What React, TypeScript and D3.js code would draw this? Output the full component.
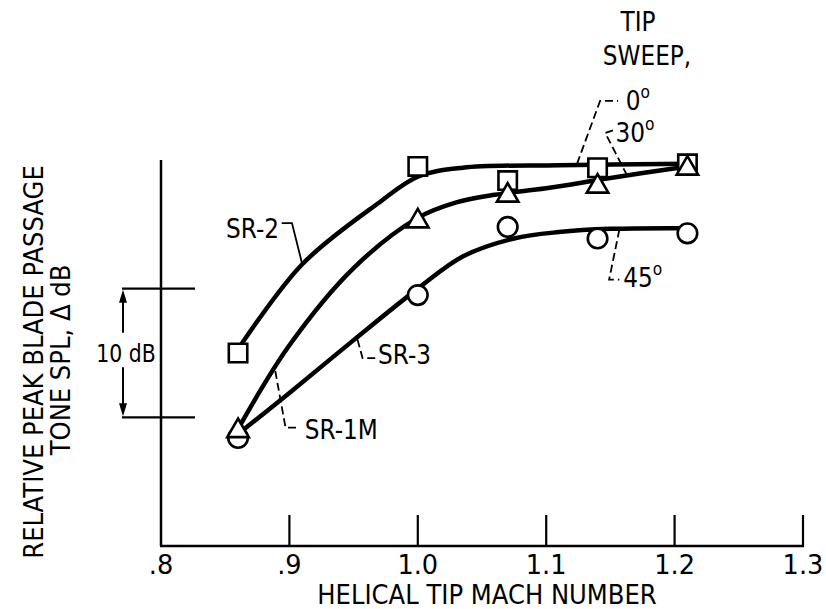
import React, { useEffect, useRef } from "react";
import * as d3 from "d3";

const xTicks = [0.8, 0.9, 1.0, 1.1, 1.2, 1.3];
const xTickLabels = [".8", ".9", "1.0", "1.1", "1.2", "1.3"];

// measured points, helical tip Mach number vs relative dB
const machTest = [0.86, 1.0, 1.07, 1.14, 1.21];
const sr2Db = [5.0, 19.5, 18.4, 19.4, 19.7];
const sr1mDb = [-0.9, 15.4, 17.4, 18.1, 19.5];
const sr3Db = [-1.6, 9.5, 14.8, 13.9, 14.3];

// faired curves
const sr2CurveMach = [0.86, 0.91, 0.97, 1.0, 1.035, 1.11, 1.21];
const sr2CurveDb = [5.3, 11.9, 16.7, 18.7, 19.4, 19.6, 19.7];
const sr1mCurveMach = [0.86, 0.9, 0.95, 1.0, 1.03, 1.06, 1.1, 1.15, 1.21];
const sr1mCurveDb = [-0.9, 5.6, 11.6, 15.5, 16.7, 17.3, 17.8, 18.6, 19.5];
const sr3CurveMach = [0.86, 0.9, 0.95, 1.0, 1.035, 1.075, 1.11, 1.15, 1.21];
const sr3CurveDb = [-1.3, 1.9, 6.0, 10.0, 12.5, 13.9, 14.4, 14.65, 14.7];

const FONT = "'DejaVu Sans', sans-serif";

const App = () => {
  const ref = useRef<SVGSVGElement>(null);

  useEffect(() => {
    const svg = d3.select(ref.current);
    svg.selectAll("*").remove();

    const x = d3.scaleLinear().domain([0.8, 1.3]).range([161, 803]);
    const y = d3.scaleLinear().domain([-10, 20]).range([546, 160]);

    const g = svg.append("g").style("font-family", FONT);

    // narrow lettering: scale text horizontally around its anchor
    const txt = (px: number, py: number, s: string, size: number, anchor = "start", sx = 0.86) =>
      g.append("text")
        .attr("transform", `translate(${px},${py}) scale(${sx},1)`)
        .attr("text-anchor", anchor)
        .style("font-size", `${size}px`)
        .text(s);

    // axes
    g.append("line")
      .attr("x1", x(0.8)).attr("x2", x(0.8))
      .attr("y1", y(20)).attr("y2", y(-10))
      .attr("stroke", "#000").attr("stroke-width", 2.5);
    g.append("line")
      .attr("x1", x(0.8) - 1).attr("x2", x(1.3) + 1)
      .attr("y1", y(-10)).attr("y2", y(-10))
      .attr("stroke", "#000").attr("stroke-width", 2.5);

    g.selectAll(".xtick")
      .data(xTicks.slice(1))
      .join("line")
      .attr("x1", d => x(d)).attr("x2", d => x(d))
      .attr("y1", y(-10)).attr("y2", y(-10) - 31)
      .attr("stroke", "#000").attr("stroke-width", 2.2);

    xTicks.forEach((d, i) => txt(x(d), y(-10) + 28, xTickLabels[i], 27, "middle", 0.95));

    txt(487, 604, "HELICAL TIP MACH NUMBER", 27, "middle", 0.9);

    // y title
    g.append("text")
      .attr("transform", "translate(43,362) rotate(-90) scale(0.9,1)")
      .attr("text-anchor", "middle")
      .style("font-size", "27px")
      .text("RELATIVE PEAK BLADE PASSAGE");
    g.append("text")
      .attr("transform", "translate(70,360) rotate(-90) scale(0.9,1)")
      .attr("text-anchor", "middle")
      .style("font-size", "27px")
      .text("TONE SPL, \u0394 dB");

    // 10 dB scale bar
    [0, 10].forEach(v => {
      g.append("line")
        .attr("x1", 122).attr("x2", 195)
        .attr("y1", y(v)).attr("y2", y(v))
        .attr("stroke", "#000").attr("stroke-width", 2.2);
    });
    const ax = 123;
    g.append("line").attr("x1", ax).attr("x2", ax)
      .attr("y1", y(10) + 8).attr("y2", y(10) + 44)
      .attr("stroke", "#000").attr("stroke-width", 2);
    g.append("line").attr("x1", ax).attr("x2", ax)
      .attr("y1", y(0) - 50).attr("y2", y(0) - 8)
      .attr("stroke", "#000").attr("stroke-width", 2);
    g.append("path")
      .attr("d", `M${ax},${y(10) + 1}L${ax - 4},${y(10) + 14}L${ax + 4},${y(10) + 14}Z`);
    g.append("path")
      .attr("d", `M${ax},${y(0) - 1}L${ax - 4},${y(0) - 14}L${ax + 4},${y(0) - 14}Z`);
    txt(126, y(5) + 9, "10 dB", 24, "middle", 0.85);

    // curves
    const line = d3.line<[number, number]>()
      .x(d => x(d[0])).y(d => y(d[1]))
      .curve(d3.curveCatmullRom.alpha(0.5));
    const curves: [number[], number[]][] = [
      [sr2CurveMach, sr2CurveDb],
      [sr1mCurveMach, sr1mCurveDb],
      [sr3CurveMach, sr3CurveDb],
    ];
    curves.forEach(([ms, ds]) => {
      g.append("path")
        .attr("d", line(ms.map((m, i) => [m, ds[i]] as [number, number])))
        .attr("fill", "none")
        .attr("stroke", "#000")
        .attr("stroke-width", 4.5)
        .attr("stroke-linecap", "round");
    });

    // symbols
    const mk = (type: d3.SymbolType, size: number) => d3.symbol().type(type).size(size)();
    const addMarks = (vals: number[], path: string | null, dy = 0) => {
      g.append("g").selectAll("path")
        .data(vals)
        .join("path")
        .attr("transform", (d, i) => `translate(${x(machTest[i])},${y(d) + dy})`)
        .attr("d", path)
        .attr("fill", "#fff")
        .attr("stroke", "#000")
        .attr("stroke-width", 2.6);
    };
    addMarks(sr3Db, mk(d3.symbolCircle, 300));
    addMarks(sr2Db, mk(d3.symbolSquare, 340));
    addMarks(sr1mDb, mk(d3.symbolTriangle, 200), 2);

    // leaders
    const lead = (pts: [number, number][], dashed: boolean) => {
      g.append("path")
        .attr("d", d3.line<[number, number]>().x(d => x(d[0])).y(d => y(d[1]))(pts))
        .attr("fill", "none")
        .attr("stroke", "#000")
        .attr("stroke-width", 1.8)
        .attr("stroke-dasharray", dashed ? "8,4" : null);
    };
    const label = (mach: number, db: number, s: string, sup?: string, anchor = "start") => {
      const t = txt(x(mach), y(db) + 10, s, 27, anchor);
      if (sup) t.append("tspan").attr("dy", -12).style("font-size", "18px").text(sup);
    };

    lead([[0.894, 15.1], [0.902, 15.1], [0.910, 11.9]], false);
    label(0.892, 14.7, "SR-2", undefined, "end");

    lead([[0.953, 6.05], [0.957, 4.6], [0.967, 4.6]], true);
    label(0.969, 4.9, "SR-3");

    lead([[0.889, 3.6], [0.897, -0.8], [0.906, -0.8]], true);
    label(0.912, -0.9, "SR-1M");

    lead([[1.124, 19.7], [1.142, 24.6], [1.156, 24.6]], true);
    label(1.162, 24.7, "0", "o");

    lead([[1.163, 18.8], [1.146, 22.1], [1.152, 22.3]], true);
    label(1.154, 22.2, "30", "o");

    lead([[1.157, 14.6], [1.149, 10.7], [1.157, 10.7]], true);
    label(1.16, 10.9, "45", "o");

    txt(638, 31, "TIP", 27, "middle");
    txt(647, 65, "SWEEP,", 27, "middle");
  }, []);

  return (
    <svg
      ref={ref}
      width={826}
      height={609}
      style={{ position: "absolute", left: 0, top: 0, background: "#fff" }}
    />
  );
};

export default App;
